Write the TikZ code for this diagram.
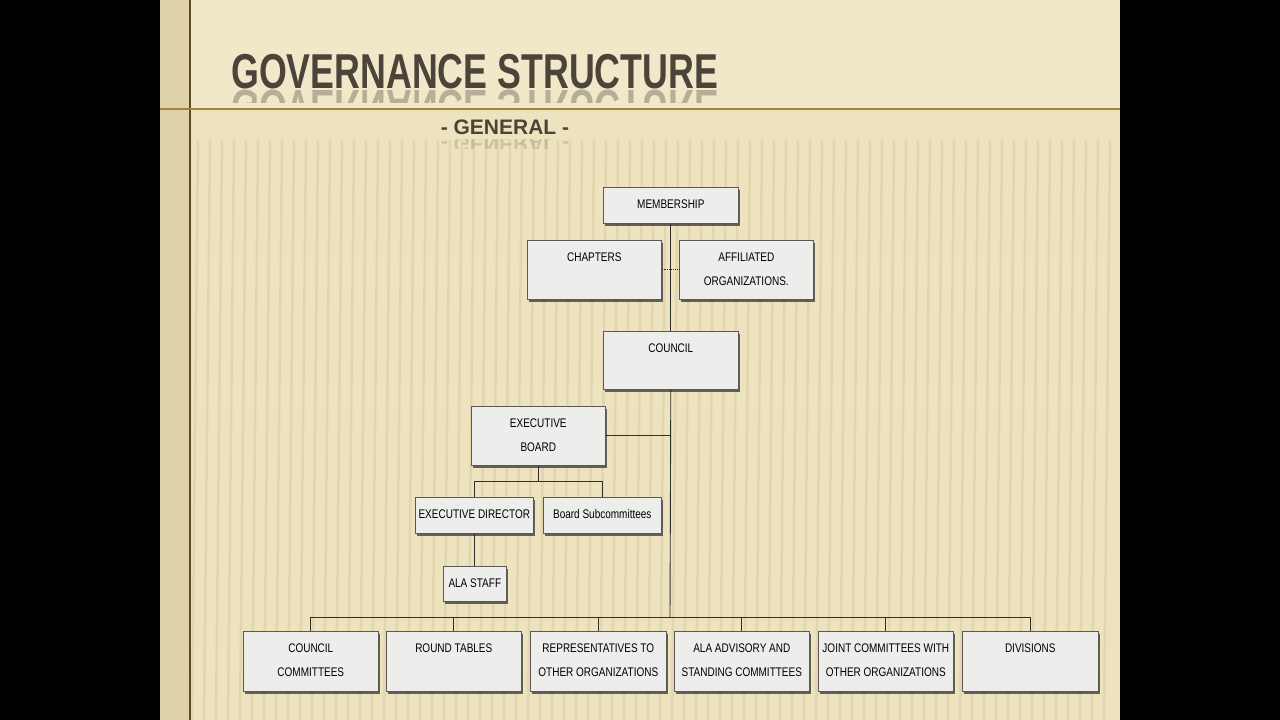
\documentclass[tikz,border=0pt]{standalone}
\usepackage{fontspec}
\usetikzlibrary{shadows}
\newfontfamily\boxfont[FakeStretch=0.8]{Liberation Sans}
\newfontfamily\titlefont[FakeStretch=0.73]{Liberation Sans}
\newfontfamily\subfont{Liberation Sans}
\definecolor{slide}{HTML}{EDE3BF}
\definecolor{slidetop}{HTML}{F1E8CA}
\definecolor{stripe}{HTML}{D9CBA2}
\definecolor{rule}{HTML}{A8823A}
\definecolor{edge}{HTML}{5B4A28}
\definecolor{ink}{HTML}{4B4439}
\definecolor{boxfill}{HTML}{EDEDEB}
\definecolor{wire}{HTML}{2E2E2A}
% text of a box: top aligned, first baseline 10.5pt down
\newcommand{\boxtext}[3]{\parbox[t][#2pt][t]{#1pt}{\centering\rule{0pt}{21pt}#3}}
\tikzset{
  orgbox/.style={draw=gray!70!black, line width=0.6pt, fill=boxfill, inner sep=0pt,
    anchor=north west, font=\boxfont\fontsize{12.5}{24}\selectfont, text=black,
    drop shadow={shadow xshift=2pt, shadow yshift=-3pt, fill=black!75, opacity=0.8}},
  link/.style={draw=wire, line width=0.9pt}
}
\begin{document}
\begin{tikzpicture}[x=1pt,y=-1pt]
\useasboundingbox (0,0) rectangle (1280,720);
\fill[black] (0,0) rectangle (1280,720);
\fill[slide] (160,0) rectangle (1120,720);
\fill[slidetop] (190,0) rectangle (1120,108);
\fill[stripe!70!slide] (160,0) rectangle (190,720);
\foreach \x in {198,210,...,1115}
  \draw[stripe, line width=2.5pt, opacity=0.55] (\x,140) -- (\x-6,720);
\draw[edge, line width=2pt] (190,0) -- (190,720);
\draw[rule, line width=1.6pt] (160,109) -- (1120,109);
% title and its reflection
\node[anchor=base west, inner sep=0pt, text=ink, font=\titlefont\bfseries\fontsize{49}{49}\selectfont] (title) at (231,88) {GOVERNANCE STRUCTURE};
\begin{scope}
\clip (220,89) rectangle (730,102);
\node[anchor=base west, inner sep=0pt, text=ink, opacity=0.35, font=\titlefont\bfseries\fontsize{49}{49}\selectfont] (titleref) at (231,90) {\scalebox{1}[-1]{GOVERNANCE STRUCTURE}};
\end{scope}
\node[anchor=base, inner sep=0pt, text=ink, font=\subfont\bfseries\fontsize{21}{21}\selectfont] (general) at (505,134) {- GENERAL -};
\begin{scope}
\clip (430,139) rectangle (580,148);
\node[anchor=base, inner sep=0pt, text=ink, opacity=0.2, font=\subfont\bfseries\fontsize{21}{21}\selectfont] (generalref) at (505,137) {\scalebox{1}[-1]{- GENERAL -}};
\end{scope}
% boxes
\node[orgbox] (memb) at (603,187) {\boxtext{135}{36}{MEMBERSHIP}};
\node[orgbox] (chapt) at (527,240) {\boxtext{134}{59}{CHAPTERS}};
\node[orgbox] (affil) at (679,240) {\boxtext{134}{59}{AFFILIATED\\ORGANIZATIONS.}};
\node[orgbox] (council) at (603,331) {\boxtext{135}{58}{COUNCIL}};
\node[orgbox] (exboard) at (471,406) {\boxtext{134}{59}{EXECUTIVE\\BOARD}};
\node[orgbox] (exdir) at (415,497) {\boxtext{118}{36}{EXECUTIVE DIRECTOR}};
\node[orgbox] (subcom) at (543,497) {\boxtext{118}{36}{Board Subcommittees}};
\node[orgbox] (staff) at (443,566) {\boxtext{63}{35}{ALA STAFF}};
\node[orgbox] (ccom) at (243,631) {\boxtext{135}{60}{COUNCIL\\COMMITTEES}};
\node[orgbox] (round) at (386,631) {\boxtext{135}{60}{ROUND TABLES}};
\node[orgbox] (reps) at (530,631) {\boxtext{136}{60}{REPRESENTATIVES TO\\OTHER ORGANIZATIONS}};
\node[orgbox] (advis) at (674,631) {\boxtext{135}{60}{ALA ADVISORY AND\\STANDING COMMITTEES}};
\node[orgbox] (joint) at (818,631) {\boxtext{135}{60}{JOINT COMMITTEES WITH\\OTHER ORGANIZATIONS}};
\node[orgbox] (divs) at (962,631) {\boxtext{136}{60}{DIVISIONS}};
% connectors
\coordinate (bus) at (670,617);
\draw[link] (memb.south) -- (council.north);
\draw[link, densely dotted] (chapt.east) -- (affil.west);
\draw[link] (council.south) -- (bus);
\draw[link] (exboard.east) -- (exboard.east -| council.south);
\draw[link] (exboard.south) -- ++(0,16) -| (exdir.north);
\draw[link] (exboard.south) -- ++(0,16) -| (subcom.north);
\draw[link] (exdir.south -| staff.north) -- (staff.north);
\foreach \n in {ccom,round,reps,advis,joint,divs}
  \draw[link] (bus) -| (\n.north);
\end{tikzpicture}
\end{document}
